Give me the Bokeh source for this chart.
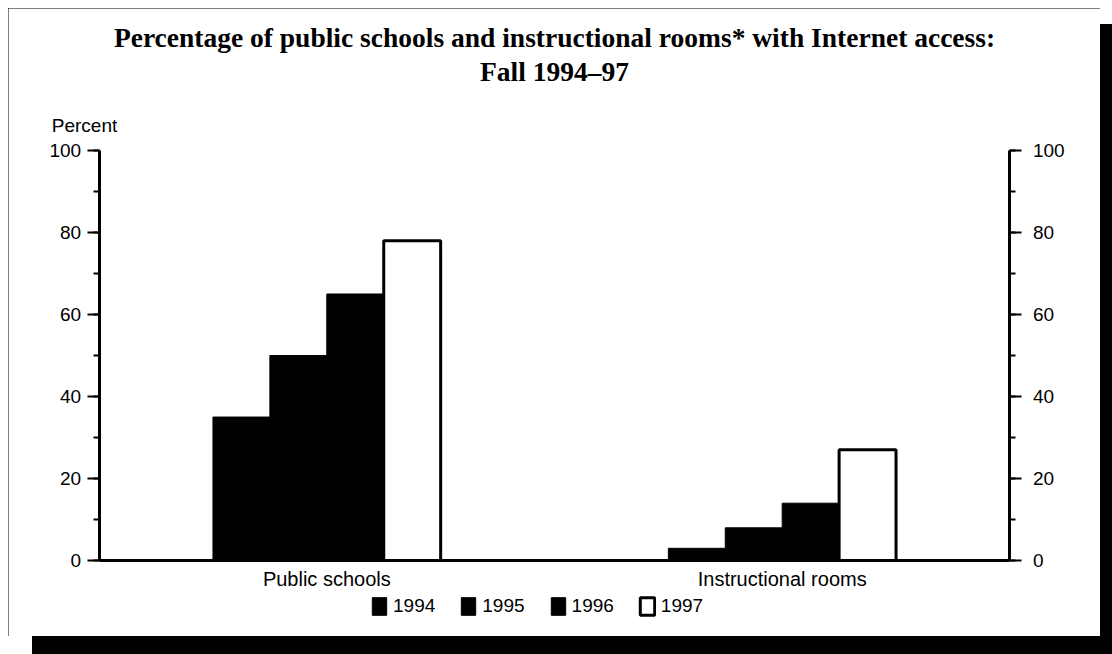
from bokeh.plotting import figure
from bokeh.models import (ColumnDataSource, FactorRange, Range1d, LinearAxis,
                          SingleIntervalTicker, Legend, LegendItem, Label)
from bokeh.transform import dodge
from bokeh.embed import file_html
from bokeh.resources import INLINE

categories = ["Public schools", "Instructional rooms"]
years = ["1994", "1995", "1996", "1997"]
v1994 = [35, 3]
v1995 = [50, 8]
v1996 = [65, 14]
v1997 = [78, 27]

title_line1 = "Percentage of public schools and instructional rooms* with Internet access:"
title_line2 = "Fall 1994\u201397"
y_label = "Percent"

src = ColumnDataSource(data=dict(cat=categories, y1994=v1994, y1995=v1995,
                                 y1996=v1996, y1997=v1997))

SANS = "Liberation Sans"
SERIF = "Liberation Serif"

# the plot frame covers the whole canvas; axes are pinned inside it
p = figure(x_range=FactorRange(factors=categories, range_padding=0.199),
           y_range=Range1d(-18.5, 134.6),
           frame_width=1092, frame_height=628,
           output_backend="svg", toolbar_location=None,
           min_border=0)
p.title = None

p.styles = {"margin-left": "8px", "margin-top": "8px",
            "outline": "2px solid black", "outline-offset": "-2px",
            "box-shadow": "18px 10px 0 -6px black, 18px 24px 0 -6px black"}

p.outline_line_color = None
p.xgrid.grid_line_color = None
p.ygrid.grid_line_color = None

offsets = [-0.1875, -0.0625, 0.0625, 0.1875]
cols = ["y1994", "y1995", "y1996", "y1997"]
fills = ["black", "black", "black", "white"]
lws = [1, 1, 1, 3]
renderers = []
for off, col, fc, lw in zip(offsets, cols, fills, lws):
    r = p.vbar(x=dodge("cat", off, range=p.x_range), top=col, width=0.125,
               source=src, fill_color=fc, line_color="black", line_width=lw)
    renderers.append(r)


def style_y(ax):
    ax.ticker = SingleIntervalTicker(interval=20, num_minor_ticks=2)
    ax.bounds = (0, 100)
    ax.axis_line_width = 3
    ax.axis_line_color = "black"
    ax.major_tick_in = 0
    ax.major_tick_out = 12
    ax.minor_tick_in = 0
    ax.minor_tick_out = 6
    ax.major_tick_line_width = 2
    ax.minor_tick_line_width = 2
    ax.major_label_text_font = SANS
    ax.major_label_text_font_size = "19px"
    ax.major_label_text_color = "black"
    ax.major_label_standoff = 6


lax = p.yaxis[0]
style_y(lax)
lax.fixed_location = 0

rax = LinearAxis(fixed_location=2)
style_y(rax)
rax.major_label_standoff = 11
p.add_layout(rax, "right")

xa = p.xaxis[0]
xa.fixed_location = 0
xa.bounds = (0, 2)
xa.axis_line_width = 3
xa.axis_line_color = "black"
xa.major_tick_line_color = None
xa.minor_tick_line_color = None
xa.major_label_text_font = SANS
xa.major_label_text_font_size = "20px"
xa.major_label_text_color = "black"
xa.major_label_standoff = 1

p.add_layout(Label(x=1, y=127.6, text=title_line1, text_align="center",
                   text_baseline="middle", text_font=SERIF,
                   text_font_size="27.5px", text_font_style="bold",
                   text_color="black"))
p.add_layout(Label(x=1, y=119.2, text=title_line2, text_align="center",
                   text_baseline="middle", text_font=SERIF,
                   text_font_size="27.5px", text_font_style="bold",
                   text_color="black"))
p.add_layout(Label(x=-0.104, y=106.1, text=y_label, text_align="left",
                   text_baseline="middle", text_font=SANS,
                   text_font_size="19px", text_color="black"))

legend = Legend(items=[LegendItem(label=y, renderers=[r]) for y, r in zip(years, renderers)],
                orientation="horizontal", location=(362, 19),
                border_line_color=None, background_fill_alpha=0,
                label_text_font=SANS, label_text_font_size="19px",
                label_text_color="black",
                glyph_width=18, glyph_height=22, spacing=24, label_standoff=5,
                padding=0, margin=0)
p.add_layout(legend, "center")

open("out.html", "w").write(file_html(p, INLINE))
